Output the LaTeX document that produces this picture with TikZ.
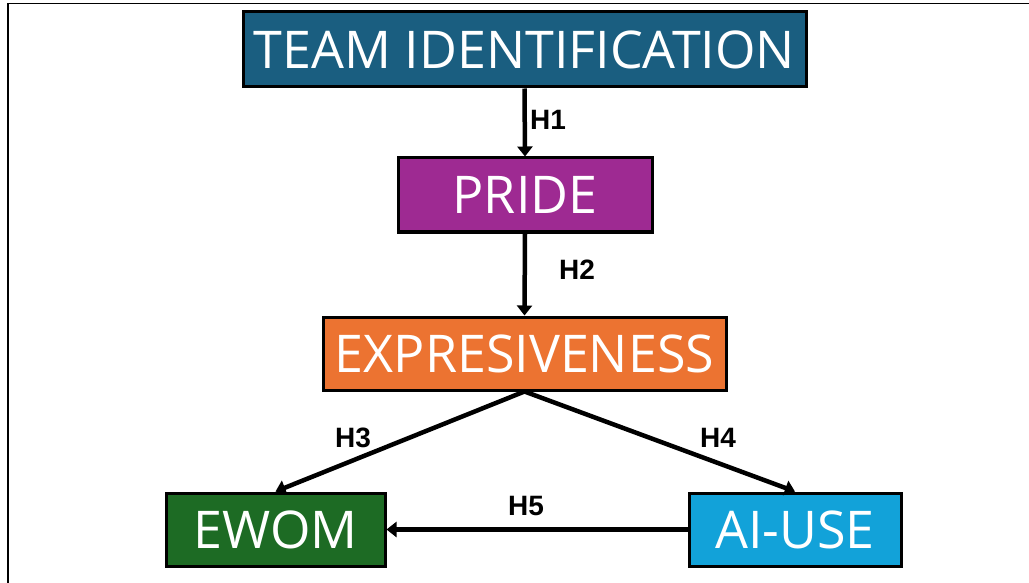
\documentclass[tikz,border=0pt]{standalone}
\usepackage{fontspec}
\setmainfont{Open Sans}
\newfontfamily\labfont{Liberation Sans}
\usetikzlibrary{arrows.meta}
\definecolor{cteam}{HTML}{1A5E80}
\definecolor{cpride}{HTML}{9E2A92}
\definecolor{cexpr}{HTML}{EC7331}
\definecolor{cewom}{HTML}{1D6B24}
\definecolor{cai}{HTML}{12A2D9}
\tikzset{
  boxnode/.style={draw=black, line width=3pt, text=white, inner sep=0pt, font=\fontsize{52}{52}\selectfont},
  hyparrow/.style={draw=black, line width=4.5pt, -{Triangle[length=10pt,width=15pt]}},
  hyplabel/.style={font=\labfont\bfseries\fontsize{28}{28}\selectfont, text=black, inner sep=0pt},
}
\begin{document}
\begin{tikzpicture}[x=1pt,y=-1pt]
\useasboundingbox (0,0) rectangle (1029,583);
\fill[white] (0,0) rectangle (1029,583);
\draw[line width=1.5pt] (1029,3.5) -- (8,3.5) -- (8,583);
\node[boxnode, fill=cteam, minimum width=563pt, minimum height=75pt] (team) at (524.5,49.5) {TEAM IDENTIFICATION};
\node[boxnode, fill=cpride, minimum width=254pt, minimum height=74pt] (pride) at (525,195) {PRIDE};
\node[boxnode, fill=cexpr, minimum width=403pt, minimum height=73pt] (expr) at (524.5,353.5) {EXPRESIVENESS};
\node[boxnode, fill=cewom, minimum width=219pt, minimum height=73pt] (ewom) at (275.5,529.5) {EWOM};
\node[boxnode, fill=cai, minimum width=212pt, minimum height=73pt] (ai) at (795,529.5) {AI-USE};
\draw[hyparrow] (team.south) -- (pride.north);
\draw[hyparrow] (pride.south) -- (expr.north);
\draw[hyparrow] (expr.south) -- (ewom.north);
\draw[hyparrow] (expr.south) -- (ai.north);
\draw[hyparrow] (ai.west) -- (ewom.east);
\node[hyplabel] (h1) at (548,120) {H1};
\node[hyplabel] (h2) at (577,270) {H2};
\node[hyplabel] (h3) at (353,438) {H3};
\node[hyplabel] (h4) at (718,438) {H4};
\node[hyplabel] (h5) at (526,506) {H5};
\end{tikzpicture}
\end{document}
